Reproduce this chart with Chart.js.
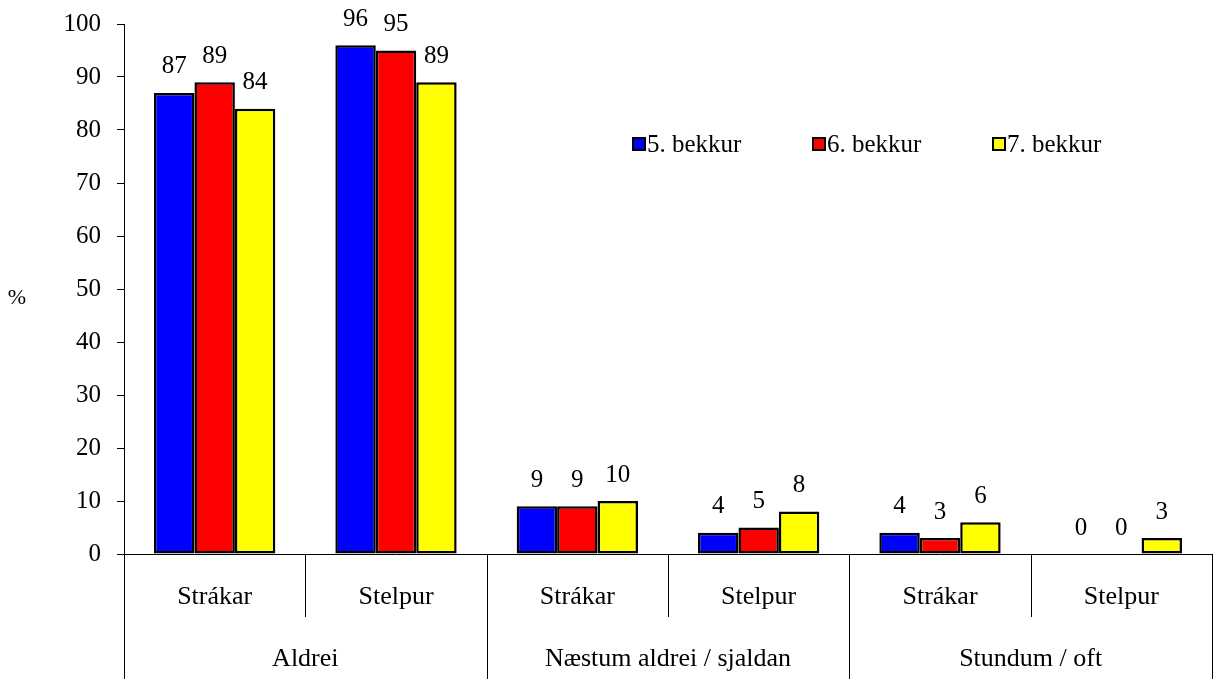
<!DOCTYPE html>
<html><head><meta charset="utf-8">
<script src="https://cdn.jsdelivr.net/npm/chart.js@4.4.1/dist/chart.umd.min.js"></script>
<style>html,body{margin:0;padding:0;background:#fff}canvas{display:block}</style>
</head><body>
<canvas id="c" width="1216" height="679"></canvas>
<script>
const subLabels = ["Strákar","Stelpur","Strákar","Stelpur","Strákar","Stelpur"];
const groupLabels = ["Aldrei","Næstum aldrei / sjaldan","Stundum / oft"];
const seriesNames = ["5. bekkur","6. bekkur","7. bekkur"];
const grade5 = [87,96,9,4,4,0];
const grade6 = [89,95,9,5,3,0];
const grade7 = [84,89,10,8,6,3];
const colors = ["#0000FF","#FF0000","#FFFF00"];
const yTicks = [0,10,20,30,40,50,60,70,80,90,100];

const FONT = "Liberation Serif";

const extras = {
  id: 'extras',
  afterDatasetsDraw(chart) {
    const ctx = chart.ctx;
    ctx.save();
    ctx.font = "25px '" + FONT + "'";
    ctx.fillStyle = "#000";
    ctx.textAlign = "center";
    ctx.textBaseline = "middle";
    chart.data.datasets.forEach((ds, i) => {
      const meta = chart.getDatasetMeta(i);
      meta.data.forEach((bar, j) => {
        ctx.fillText(String(ds.data[j]), bar.x, bar.y - 26);
      });
    });
    // x axis two-level labels and separators
    const xs = chart.scales.x;
    const area = chart.chartArea;
    const n = subLabels.length;
    const w = (xs.right - xs.left) / n;
    ctx.strokeStyle = "#000";
    ctx.lineWidth = 1;
    for (let k = 0; k <= n; k++) {
      const x = Math.round(xs.left + k * w) + 0.5;
      const long = (k % 2 === 0);
      ctx.beginPath();
      ctx.moveTo(x, area.bottom);
      ctx.lineTo(x, long ? 679 : area.bottom + 63);
      ctx.stroke();
    }
    ctx.font = "26px '" + FONT + "'";
    subLabels.forEach((l, j) => {
      ctx.fillText(l, xs.getPixelForValue(j), area.bottom + 43);
    });
    groupLabels.forEach((l, g) => {
      const cx = (xs.getPixelForValue(2*g) + xs.getPixelForValue(2*g+1)) / 2;
      ctx.fillText(l, cx, area.bottom + 105);
    });
    // % label
    ctx.font = "22px '" + FONT + "'";
    ctx.fillText("%", 17, 298);
    // legend
    ctx.font = "25px '" + FONT + "'";
    const legX = [633, 813, 993];
    ctx.textAlign = "left";
    seriesNames.forEach((s, i) => {
      ctx.fillStyle = colors[i];
      ctx.fillRect(legX[i], 138, 12, 12);
      ctx.strokeStyle = "#000";
      ctx.lineWidth = 2;
      ctx.strokeRect(legX[i], 138, 12, 12);
      ctx.fillStyle = "#000";
      ctx.fillText(s, legX[i] + 14, 145);
    });
    ctx.restore();
  }
};

new Chart(document.getElementById('c'), {
  type: 'bar',
  data: {
    labels: subLabels,
    datasets: [grade5, grade6, grade7].map((d, i) => ({
      label: seriesNames[i],
      data: d,
      backgroundColor: colors[i],
      borderColor: "#000",
      borderWidth: (c) => (c.raw === 0 ? 0 : 2.5),
      borderSkipped: false,
      barPercentage: 1.0,
      categoryPercentage: 0.669
    }))
  },
  options: {
    responsive: false,
    animation: false,
    devicePixelRatio: 1,
    layout: { padding: { left: 0, right: 4, top: 24, bottom: 0 } },
    plugins: { legend: { display: false }, tooltip: { enabled: false } },
    scales: {
      x: {
        grid: { display: false, drawTicks: false },
        border: { display: true, color: "#000", width: 1 },
        ticks: { display: false },
        afterFit(s) { s.height = 125; s.paddingLeft = 0; s.paddingRight = 0; }
      },
      y: {
        min: 0, max: 100,
        afterBuildTicks(s) { s.ticks = yTicks.map(v => ({ value: v })); },
        grid: { drawOnChartArea: false, drawTicks: true, tickLength: 7, color: "#000" },
        border: { display: true, color: "#000", width: 1 },
        ticks: { color: "#000", font: { family: FONT, size: 25 }, padding: 16 },
        afterFit(s) { s.width = 124; s.paddingTop = 0; s.paddingBottom = 0; }
      }
    }
  },
  plugins: [extras]
});
</script>
</body></html>
